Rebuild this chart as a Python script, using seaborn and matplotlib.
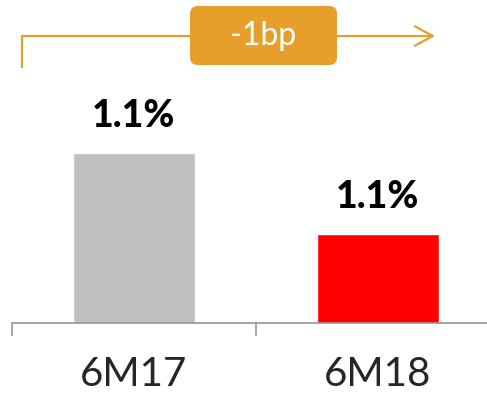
import matplotlib
matplotlib.use("Agg")
import matplotlib.pyplot as plt
from matplotlib.patches import FancyBboxPatch
import seaborn as sns

periods = ["6M17", "6M18"]
ratio = [1.14, 1.13]          # % (both shown rounded as 1.1%)
bar_colors = ["#BFBFBF", "#FF0000"]
change_label = "-1bp"

sns.set_theme(style="white")
plt.rcParams['font.family'] = ['Lato', 'DejaVu Sans']

orange = "#E69F2A"

fig = plt.figure(figsize=(4.87, 3.96), dpi=100)
ax = fig.add_axes([12 / 487, 73 / 396, 488 / 487, 323 / 396])

sns.barplot(x=periods, y=ratio, hue=periods, palette=bar_colors,
            width=0.5, legend=False, ax=ax, saturation=1)

base = 1.119
ax.set_ylim(base, base + 0.01 * 323 / 81)
ax.set_xlim(-0.5, 1.5)

for i, v in enumerate(ratio):
    ax.text(i, v + 0.0045, f"{v:.1f}%", ha="center", va="center",
            fontsize=27, fontweight="black", color="black")

for s in ["top", "right", "left"]:
    ax.spines[s].set_visible(False)
ax.spines["bottom"].set_color("#969696")
ax.spines["bottom"].set_linewidth(1.2)
ax.set_yticks([])

ax.set_xticks([-0.5, 0.5, 1.5])
ax.set_xticklabels([])
ax.tick_params(axis="x", which="major", length=9, width=1.2, color="#969696",
               direction="out", bottom=True)
ax.set_xticks([0, 1], minor=True)
ax.set_xticklabels(periods, minor=True, fontsize=29)
ax.tick_params(axis="x", which="minor", length=0, pad=24)
ax.set_xlabel("")

# overlay in pixel coordinates for the change bracket
ov = fig.add_axes([0, 0, 1, 1])
ov.set_xlim(0, 487)
ov.set_ylim(396, 0)
ov.axis("off")
ov.patch.set_alpha(0)

ov.plot([22, 22, 200], [68, 36, 36], color=orange, lw=1.6, solid_capstyle="butt")
ov.annotate("", xy=(438, 36), xytext=(330, 36),
            arrowprops=dict(arrowstyle="->,head_length=1.3,head_width=0.7",
                            mutation_scale=10, color=orange, lw=1.6))
box = FancyBboxPatch((195, 11), 137, 49, boxstyle="round,pad=5,rounding_size=8",
                     fc=orange, ec="none")
ov.add_patch(box)
ov.text(263.5, 36, change_label, ha="center", va="center", color="white", fontsize=23)

fig.savefig("out.png", dpi=100)
